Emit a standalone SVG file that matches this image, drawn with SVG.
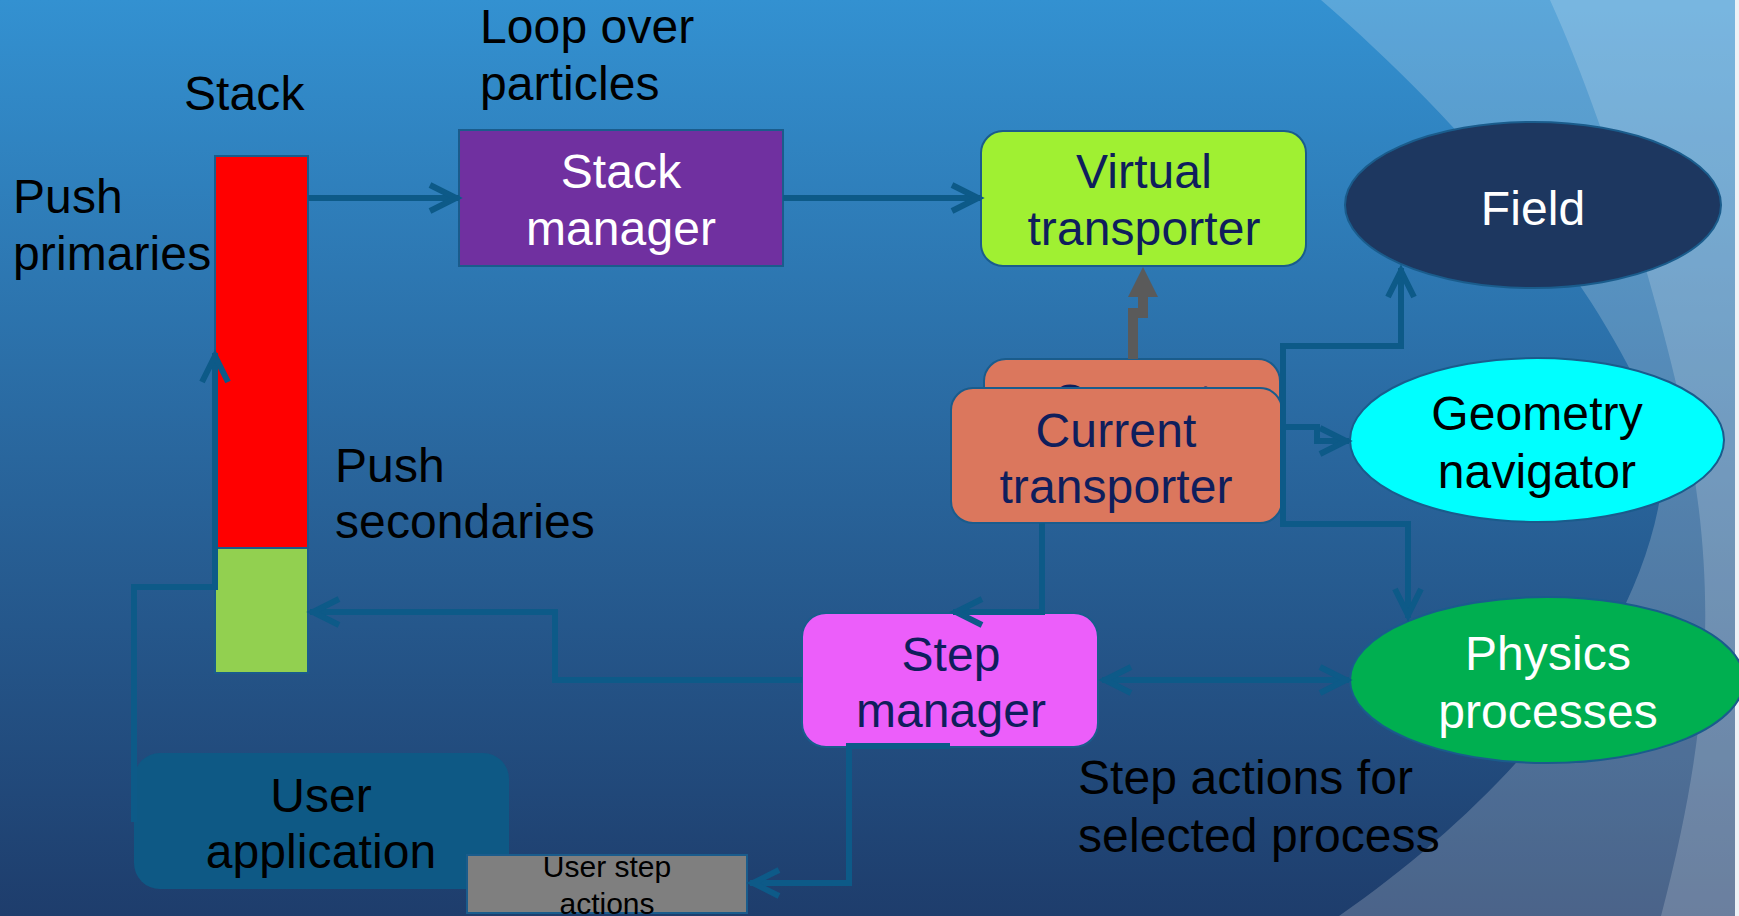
<svg xmlns="http://www.w3.org/2000/svg" width="1739" height="916" viewBox="0 0 1739 916">
  <defs>
    <linearGradient id="bg" x1="0" y1="0" x2="0" y2="1">
      <stop offset="0" stop-color="#3391D1"/>
      <stop offset="0.5" stop-color="#29669D"/>
      <stop offset="1" stop-color="#1E3D6C"/>
    </linearGradient>
    <marker id="chev" markerUnits="userSpaceOnUse" viewBox="-34 -18 40 36" refX="0" refY="0" markerWidth="40" markerHeight="36" orient="auto-start-reverse">
      <path d="M-29,-13 L-3,0 L-29,13" fill="none" stroke="#0D5A88" stroke-width="6"/>
    </marker>
    <style>
      .t { font-family: "Liberation Sans", Arial, sans-serif; font-size: 48px; letter-spacing: 0.1px; }
      .small { font-size: 30px; letter-spacing: 0; }
      .mid { text-anchor: middle; }
      .navy { fill: #0F1E5C; }
      .white { fill: #FFFFFF; }
      .black { fill: #000000; }
      .edge { stroke: #1A5C8C; stroke-width: 2; }
      .conn { fill: none; stroke: #0D5A88; stroke-width: 6; }
      .arr { marker-end: url(#chev); }
    </style>
  </defs>

  <!-- backdrop with the two pale swooshes on the right -->
  <rect x="0" y="0" width="1739" height="916" fill="url(#bg)"/>
  <path d="M1321,0 C1460,120 1610,290 1665,450 C1660,620 1520,790 1339,916 L1739,916 L1739,0 Z" fill="#FFFFFF" fill-opacity="0.2"/>
  <path d="M1550,0 C1600,110 1650,270 1680,400 C1715,560 1718,700 1661,916 L1739,916 L1739,0 Z" fill="#FFFFFF" fill-opacity="0.18"/>
  <rect x="1735" y="0" width="4" height="916" fill="#EEF2F6"/>

  <!-- free labels -->
  <g id="labels" class="t black">
    <text x="184" y="110">Stack</text>
    <text x="480" y="43">Loop over</text>
    <text x="480" y="100">particles</text>
    <text x="13" y="213">Push</text>
    <text x="13" y="270">primaries</text>
    <text x="335" y="482">Push</text>
    <text x="335" y="538">secondaries</text>
    <text x="1078" y="794">Step actions for</text>
    <text x="1078" y="852">selected process</text>
  </g>

  <g id="stack">
    <rect x="215" y="156" width="93" height="392" fill="#FF0000" class="edge" stroke-width="1.5"/>
    <rect x="215" y="548" width="93" height="125" fill="#92D050" class="edge" stroke-width="1.5"/>
  </g>

  <g id="stack-manager">
    <rect x="459" y="130" width="324" height="136" fill="#7030A0" class="edge"/>
    <text class="t mid white" x="621" y="188">Stack</text>
    <text class="t mid white" x="621" y="245">manager</text>
  </g>

  <g id="virtual-transporter">
    <rect x="981" y="131" width="325" height="135" rx="22" fill="#A0F032" class="edge"/>
    <text class="t mid navy" x="1144" y="188">Virtual</text>
    <text class="t mid navy" x="1144" y="245">transporter</text>
  </g>

  <g id="field">
    <ellipse cx="1533" cy="205" rx="188" ry="83" fill="#1D3760" class="edge"/>
    <text class="t mid white" x="1533" y="225">Field</text>
  </g>

  <!-- second current transporter, mostly hidden behind the front one -->
  <g id="current-transporter-back">
    <rect x="984" y="359" width="296" height="130" rx="22" fill="#DB775D" class="edge"/>
    <text class="t mid navy" x="1132" y="418">Current</text>
  </g>

  <g id="current-transporter">
    <rect x="951" y="388" width="331" height="135" rx="22" fill="#DB775D" class="edge"/>
    <text class="t mid navy" x="1116" y="447">Current</text>
    <text class="t mid navy" x="1116" y="503">transporter</text>
  </g>

  <g id="geometry-navigator">
    <ellipse cx="1537" cy="440" rx="187" ry="82" fill="#00FFFF" class="edge"/>
    <text class="t mid black" x="1537" y="430">Geometry</text>
    <text class="t mid black" x="1537" y="488">navigator</text>
  </g>

  <g id="physics-processes">
    <ellipse cx="1547" cy="680" rx="197" ry="83" fill="#00AF50" class="edge"/>
    <text class="t mid white" x="1548" y="670">Physics</text>
    <text class="t mid white" x="1548" y="728">processes</text>
  </g>

  <g id="step-manager">
    <rect x="802" y="613" width="296" height="134" rx="24" fill="#EC5EFA" class="edge"/>
    <text class="t mid navy" x="951" y="671">Step</text>
    <text class="t mid navy" x="951" y="727">manager</text>
  </g>

  <g id="user-application">
    <rect x="134" y="753" width="375" height="136" rx="26" fill="#0E5985"/>
    <text class="t mid black" x="321" y="812">User</text>
    <text class="t mid black" x="321" y="868">application</text>
  </g>

  <g id="user-step-actions">
    <rect x="467" y="855" width="280" height="58" fill="#7F7F7F" class="edge"/>
    <text class="t small mid black" x="607" y="877">User step</text>
    <text class="t small mid black" x="607" y="914">actions</text>
  </g>

  <g id="connectors">
    <path class="conn arr" d="M308,198 H459"/>
    <path class="conn arr" d="M783,198 H981"/>
    <path class="conn arr" d="M1283,524 V346 H1401 V268"/>
    <path class="conn arr" d="M1283,427 H1317 V441 H1349"/>
    <path class="conn arr" d="M1283,427 V524 H1408 V618"/>
    <path class="conn arr" d="M1042,523 V612 H953"/>
    <path class="conn arr" d="M1102,680 H1349" marker-start="url(#chev)"/>
    <path class="conn arr" d="M802,680 H555 V612 H310"/>
    <path class="conn arr" d="M950,746 H849 V883 H750"/>
    <path class="conn arr" d="M134,822 V587 H215 V353"/>
    <!-- grey link into the virtual transporter -->
    <path d="M1133,359 V313 H1143 V295" fill="none" stroke="#5A5A5A" stroke-width="10"/>
    <polygon points="1143,267 1158,297 1128,297" fill="#5A5A5A"/>
  </g>
</svg>
